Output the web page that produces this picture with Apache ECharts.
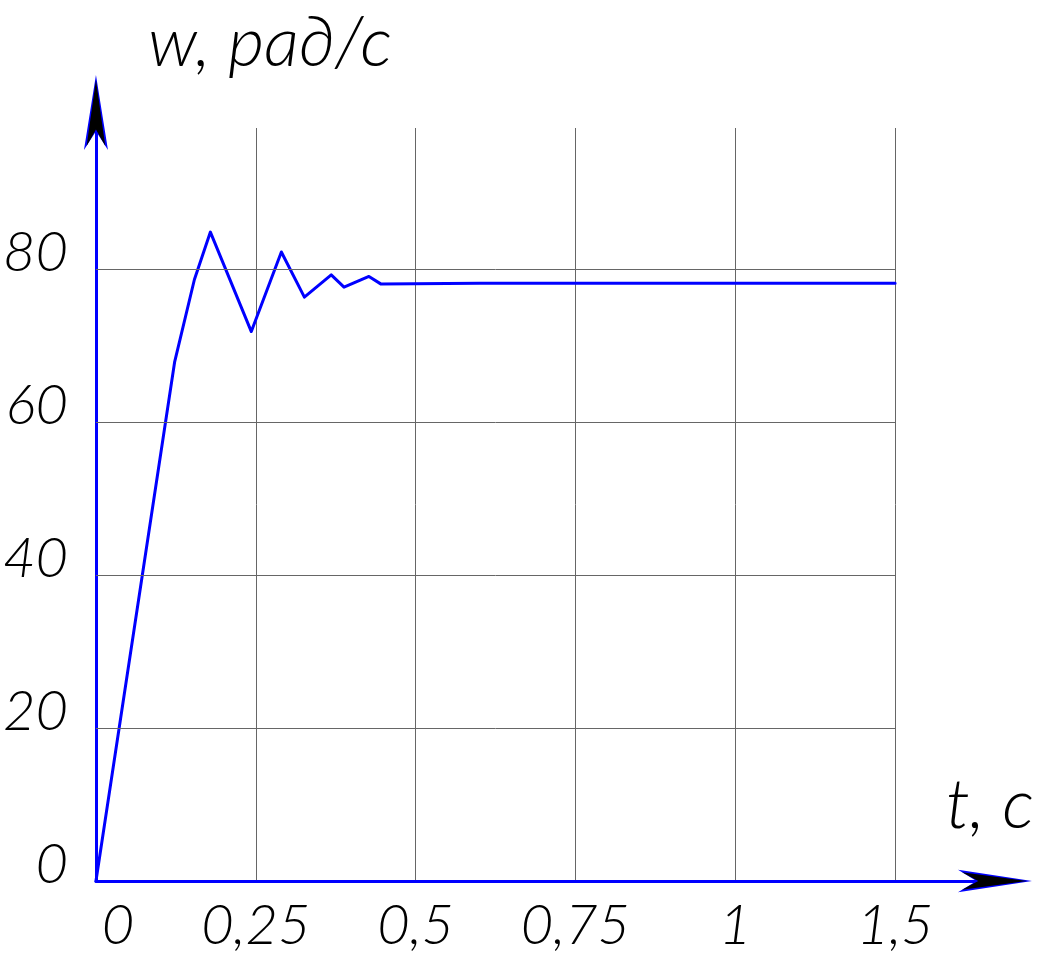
<!DOCTYPE html>
<html>
<head>
<meta charset="utf-8">
<script src="https://cdn.jsdelivr.net/npm/echarts@6/dist/echarts.min.js"></script>
<style>
html, body { margin: 0; padding: 0; background: #fff; }
#chart { width: 1048px; height: 955px; }
</style>
</head>
<body>
<div id="chart"></div>
<script>
// t, c  ->  w, рад/с
var timeValues  = [0, 0.123, 0.154, 0.179, 0.243, 0.290, 0.326, 0.368, 0.388, 0.427, 0.446, 0.6, 1.25];
var speedValues = [0, 67.8, 78.6, 84.8, 71.8, 82.2, 76.3, 79.2, 77.6, 79.0, 78.0, 78.1, 78.1];

var xTickLabels = ['0', '0,25', '0,5', '0,75', '1', '1,5'];
var yTickLabels = ['0', '20', '40', '60', '80'];
var gridLevels = [20, 40, 60, 80];

var blue = '#0000ff';
var gridColor = '#666666';
var textFont = "Lato, 'Liberation Sans', sans-serif";

var chart = echarts.init(document.getElementById('chart'));

var curve = timeValues.map(function (t, i) { return [t, speedValues[i]]; });
var tEnd = timeValues[timeValues.length - 1];

var nameStyle = { fontFamily: textFont, fontStyle: 'italic', fontWeight: 300, fontSize: 70, lineHeight: 70, color: '#000' };

var option = {
    animation: false,
    backgroundColor: '#fff',
    title: [
        { text: 'w, рад/с', left: 148, top: 8, padding: 0, textStyle: nameStyle },
        { text: 't, с', left: 946, top: 770, padding: 0, textStyle: nameStyle }
    ],
    grid: { left: 93, right: 57, top: 128, bottom: 74, containLabel: false },
    xAxis: [
        {
            type: 'value', min: 0, max: 1.4, interval: 0.25,
            axisLine: {
                show: true, onZero: false,
                symbol: ['none', 'arrow'], symbolSize: [17, 74], symbolOffset: [0, 41],
                lineStyle: { color: blue, width: 3 }
            },
            axisTick: { show: false },
            axisLabel: {
                showMaxLabel: false, margin: 17,
                fontFamily: textFont, fontStyle: 'italic', fontWeight: 300, fontSize: 56, color: '#000',
                formatter: function (v) {
                    var i = Math.round(v / 0.25);
                    var s = xTickLabels[i];
                    if (s == null) return '';
                    return i === 0 ? '{first|' + s + '}' : s;
                },
                rich: { first: { padding: [0, 0, 0, 44] } }
            },
            splitLine: { show: true, showMaxLine: false, showMinLine: false, lineStyle: { color: gridColor, width: 1 } }
        },
        {
            type: 'value', min: 0, max: 1.4, position: 'bottom', z: 5,
            axisLine: {
                show: true, onZero: false,
                symbol: ['none', 'arrow'], symbolSize: [13, 65], symbolOffset: [0, 36],
                lineStyle: { color: '#000', width: 0 }
            },
            axisTick: { show: false }, axisLabel: { show: false }, splitLine: { show: false }
        }
    ],
    yAxis: [
        {
            type: 'value', min: 0, max: 98.4, interval: 20,
            axisLine: {
                show: true, onZero: false,
                symbol: ['none', 'arrow'], symbolSize: [18, 75], symbolOffset: [0, 53],
                lineStyle: { color: blue, width: 3 }
            },
            axisTick: { show: false },
            axisLabel: {
                showMaxLabel: false, margin: 28,
                verticalAlign: 'bottom', lineHeight: 32,
                fontFamily: textFont, fontStyle: 'italic', fontWeight: 300, fontSize: 56, color: '#000',
                formatter: function (v) {
                    var s = yTickLabels[Math.round(v / 20)];
                    return s == null ? '' : s;
                }
            },
            splitLine: { show: false }
        },
        {
            type: 'value', min: 0, max: 98.4, position: 'left', z: 5,
            axisLine: {
                show: true, onZero: false,
                symbol: ['none', 'arrow'], symbolSize: [14, 66], symbolOffset: [0, 48],
                lineStyle: { color: '#000', width: 0 }
            },
            axisTick: { show: false }, axisLabel: { show: false }, splitLine: { show: false }
        }
    ],
    series: [
        {
            type: 'line', data: [], z: 1, silent: true,
            markLine: {
                silent: true, symbol: 'none', animation: false,
                label: { show: false },
                lineStyle: { color: gridColor, width: 1, type: 'solid' },
                data: gridLevels.map(function (v) { return [{ coord: [0, v] }, { coord: [tEnd, v] }]; })
            }
        },
        {
            name: 'w', type: 'line', z: 3,
            data: curve,
            showSymbol: false, symbol: 'none',
            lineStyle: { color: blue, width: 3, join: 'round', cap: 'round' }
        }
    ]
};

chart.setOption(option);
</script>
</body>
</html>
